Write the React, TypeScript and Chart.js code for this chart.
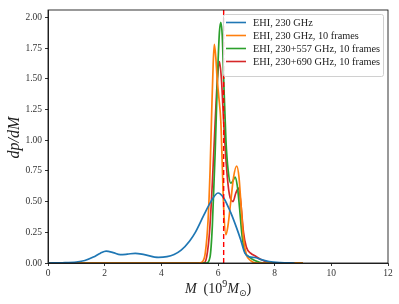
import React, { useEffect, useRef } from "react";
import { Chart, registerables } from "chart.js";

Chart.register(...registerables);

// ---- data ----
const blueX = [0, 0.5, 1.0, 1.3, 1.6, 1.85, 2.05, 2.3, 2.55, 2.8, 3.08, 3.4, 3.9, 4.2, 4.45, 4.7, 5.0, 5.2, 5.5, 5.75, 6.0, 6.2, 6.45, 6.65, 6.8, 6.95, 7.1, 7.3, 7.5, 7.8, 8.2, 8.7];
const blueY = [0, 0.002, 0.008, 0.02, 0.048, 0.08, 0.097, 0.085, 0.068, 0.072, 0.079, 0.068, 0.046, 0.052, 0.07, 0.105, 0.18, 0.25, 0.39, 0.5, 0.57, 0.53, 0.41, 0.29, 0.19, 0.08, 0.05, 0.045, 0.03, 0.012, 0.003, 0];

const orangeX = [0, 5.3, 5.45, 5.55, 5.65, 5.72, 5.78, 5.83, 5.87, 5.92, 5.97, 6.03, 6.1, 6.15, 6.2, 6.28, 6.35, 6.45, 6.55, 6.66, 6.74, 6.82, 6.9, 7.0, 7.15, 7.4, 9];
const orangeY = [0, 0, 0.01, 0.08, 0.35, 0.75, 1.25, 1.62, 1.78, 1.68, 1.5, 1.35, 1.15, 0.8, 0.45, 0.23, 0.3, 0.5, 0.7, 0.79, 0.7, 0.45, 0.2, 0.07, 0.02, 0, 0];

const greenX = [0, 5.6, 5.72, 5.8, 5.9, 5.98, 6.05, 6.1, 6.15, 6.2, 6.28, 6.36, 6.45, 6.53, 6.6, 6.68, 6.76, 6.85, 6.95, 7.1, 7.3, 7.6, 9];
const greenY = [0, 0, 0.05, 0.3, 0.9, 1.5, 1.88, 1.96, 1.85, 1.5, 1.0, 0.75, 0.65, 0.67, 0.7, 0.63, 0.45, 0.22, 0.09, 0.05, 0.02, 0, 0];

const redX = [0, 5.5, 5.6, 5.7, 5.8, 5.9, 5.98, 6.05, 6.12, 6.2, 6.3, 6.4, 6.53, 6.63, 6.73, 6.8, 6.9, 7.0, 7.15, 7.33, 7.5, 7.65, 7.9, 9];
const redY = [0, 0, 0.05, 0.25, 0.65, 1.15, 1.5, 1.64, 1.5, 1.15, 0.78, 0.56, 0.5, 0.57, 0.61, 0.5, 0.25, 0.13, 0.08, 0.055, 0.03, 0.015, 0, 0];

const seriesLabels = [
  "EHI, 230 GHz",
  "EHI, 230 GHz, 10 frames",
  "EHI, 230+557 GHz, 10 frames",
  "EHI, 230+690 GHz, 10 frames",
];
const seriesColors = ["#1f77b4", "#ff7f0e", "#2ca02c", "#d62728"];
const markerMass = 6.2;
const xTicks = [0, 2, 4, 6, 8, 10, 12];
const yTicks = [0, 0.25, 0.5, 0.75, 1.0, 1.25, 1.5, 1.75, 2.0];
const xMin = 0, xMax = 12, yMin = 0, yMax = 2.06;

const SERIF = "'Liberation Serif', 'DejaVu Serif', serif";

function zip(xs: number[], ys: number[]) {
  return xs.map((x, i) => ({ x, y: ys[i] }));
}

const overlayPlugin = {
  id: "overlay",
  afterDatasetsDraw(chart: any) {
    const { ctx, chartArea, scales } = chart;
    const { top, bottom } = chartArea;
    ctx.save();
    const px = scales.x.getPixelForValue(markerMass);
    ctx.strokeStyle = "#ff0000";
    ctx.lineWidth = 1.4;
    ctx.setLineDash([5, 3]);
    ctx.beginPath();
    ctx.moveTo(px, top);
    ctx.lineTo(px, bottom);
    ctx.stroke();
    ctx.setLineDash([]);
    ctx.restore();
  },
  afterDraw(chart: any) {
    const { ctx, chartArea } = chart;
    const { left, right, top, bottom } = chartArea;
    ctx.save();
    // frame
    ctx.strokeStyle = "#000";
    ctx.lineWidth = 0.8;
    ctx.strokeRect(left, top, right - left, bottom - top);

    // legend
    const lx = 223, ly = 14, lw = 160, lh = 62;
    ctx.fillStyle = "rgba(255,255,255,0.8)";
    ctx.strokeStyle = "#d0d0d0";
    ctx.lineWidth = 1;
    ctx.beginPath();
    (ctx as any).roundRect(lx + 0.5, ly + 0.5, lw, lh, 2);
    ctx.fill();
    ctx.stroke();
    ctx.font = `10.3px ${SERIF}`;
    ctx.textBaseline = "middle";
    ctx.textAlign = "left";
    seriesLabels.forEach((lab, i) => {
      const yy = 22.5 + i * 13;
      ctx.strokeStyle = seriesColors[i];
      ctx.lineWidth = 1.6;
      ctx.beginPath();
      ctx.moveTo(226, yy);
      ctx.lineTo(246, yy);
      ctx.stroke();
      ctx.fillStyle = "#222";
      ctx.fillText(lab, 253, yy + 0.5);
    });

    // x title: M (10^9 M_sun)
    const base = 293;
    const parts: { t: string; f: string; dy: number }[] = [
      { t: "M", f: `italic 14px ${SERIF}`, dy: 0 },
      { t: "  (10", f: `14px ${SERIF}`, dy: 0 },
      { t: "9", f: `10px ${SERIF}`, dy: -6 },
      { t: "M", f: `italic 14px ${SERIF}`, dy: 0 },
      { t: "\u2299", f: `9px 'DejaVu Sans', sans-serif`, dy: 3 },
      { t: ")", f: `14px ${SERIF}`, dy: 0 },
    ];
    let total = 0;
    const widths = parts.map((p) => {
      ctx.font = p.f;
      const w = ctx.measureText(p.t).width;
      total += w;
      return w;
    });
    let cx = (left + right) / 2 - total / 2;
    ctx.fillStyle = "#222";
    ctx.textBaseline = "alphabetic";
    parts.forEach((p, i) => {
      ctx.font = p.f;
      ctx.fillText(p.t, cx, base + p.dy);
      cx += widths[i];
    });

    // y title
    ctx.translate(19, (top + bottom) / 2 + 1);
    ctx.rotate(-Math.PI / 2);
    ctx.font = `italic 16px ${SERIF}`;
    ctx.textAlign = "center";
    ctx.textBaseline = "alphabetic";
    ctx.fillText("dp/dM", 0, 0);
    ctx.restore();
  },
};

export default function App() {
  const ref = useRef<HTMLCanvasElement | null>(null);
  useEffect(() => {
    document.body.style.margin = "0";
    const canvas = ref.current!;
    const mk = (label: string, xs: number[], ys: number[], color: string) => ({
      label,
      data: zip(xs, ys),
      borderColor: color,
      backgroundColor: color,
      borderWidth: 1.7,
      pointRadius: 0,
      fill: false,
      cubicInterpolationMode: "monotone" as const,
    });
    const chart = new Chart(canvas, {
      type: "line",
      data: {
        datasets: [
          mk(seriesLabels[0], blueX, blueY, seriesColors[0]),
          mk(seriesLabels[1], orangeX, orangeY, seriesColors[1]),
          mk(seriesLabels[2], greenX, greenY, seriesColors[2]),
          mk(seriesLabels[3], redX, redY, seriesColors[3]),
        ],
      },
      options: {
        animation: false,
        responsive: false,
        events: [],
        layout: { padding: { top: 10, right: 11, left: 0, bottom: 0 } },
        plugins: { legend: { display: false }, tooltip: { enabled: false } },
        scales: {
          x: {
            type: "linear",
            min: xMin,
            max: xMax,
            afterBuildTicks: (s: any) => {
              s.ticks = xTicks.map((v) => ({ value: v }));
            },
            afterFit: (s: any) => {
              s.height = 41;
            },
            grid: { drawOnChartArea: false, drawTicks: true, tickLength: 3, color: "#000", lineWidth: 0.8 },
            border: { display: true, color: "#000", width: 0.8 },
            ticks: {
              color: "#333",
              padding: 2,
              maxRotation: 0,
              font: { family: SERIF, size: 9.5 },
              callback: (v: any) => String(v),
            },
          },
          y: {
            type: "linear",
            min: yMin,
            max: yMax,
            afterBuildTicks: (s: any) => {
              s.ticks = yTicks.map((v) => ({ value: v }));
            },
            afterFit: (s: any) => {
              s.width = 48;
            },
            grid: { drawOnChartArea: false, drawTicks: true, tickLength: 3, color: "#000", lineWidth: 0.8 },
            border: { display: true, color: "#000", width: 0.8 },
            ticks: {
              color: "#333",
              padding: 3,
              font: { family: SERIF, size: 9.5 },
              callback: (v: any) => Number(v).toFixed(2),
            },
          },
        },
      },
      plugins: [overlayPlugin],
    });
    return () => chart.destroy();
  }, []);
  return (
    <div style={{ width: 399, height: 304 }}>
      <canvas ref={ref} width={399} height={304} style={{ display: "block" }} />
    </div>
  );
}
